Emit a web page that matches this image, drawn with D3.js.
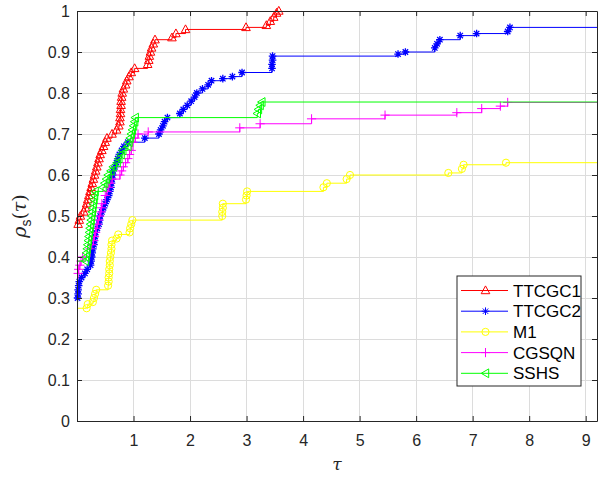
<!DOCTYPE html>
<html>
<head>
<meta charset="utf-8">
<script src="https://cdn.jsdelivr.net/npm/d3@7/dist/d3.min.js"></script>
<style>
  html, body { margin: 0; padding: 0; background: #fff; }
  svg { display: block; }
</style>
</head>
<body>
<div id="chart"></div>
<script>
// Performance profiles: fraction of problems rho_s(tau) solved within factor tau.
const seriesNames = ["TTCGC1", "TTCGC2", "M1", "CGSQN", "SSHS"];

const ttcgc1Tau = [0.02, 0.04, 0.06, 0.12, 0.15, 0.17, 0.19, 0.21, 0.23, 0.25, 0.27, 0.29, 0.31, 0.33, 0.35, 0.37, 0.39, 0.41, 0.44, 0.47, 0.50, 0.53, 0.62, 0.70, 0.74, 0.76, 0.76, 0.77, 0.77, 0.78, 0.78, 0.79, 0.80, 0.82, 0.86, 0.88, 0.92, 0.96, 1.02, 1.25, 1.27, 1.28, 1.30, 1.32, 1.35, 1.38, 1.68, 1.75, 1.92, 2.99, 3.35, 3.42, 3.48, 3.53, 3.57];
const ttcgc1Rho = [0.48, 0.49, 0.50, 0.51, 0.52, 0.53, 0.54, 0.55, 0.56, 0.57, 0.58, 0.59, 0.60, 0.61, 0.62, 0.63, 0.64, 0.65, 0.66, 0.67, 0.68, 0.69, 0.70, 0.71, 0.72, 0.73, 0.74, 0.75, 0.76, 0.77, 0.78, 0.79, 0.80, 0.81, 0.82, 0.83, 0.84, 0.85, 0.86, 0.87, 0.88, 0.89, 0.90, 0.91, 0.92, 0.93, 0.935, 0.945, 0.955, 0.96, 0.965, 0.975, 0.985, 0.995, 1.0];

const ttcgc2Tau = [0.01, 0.02, 0.02, 0.03, 0.04, 0.08, 0.14, 0.18, 0.24, 0.25, 0.26, 0.27, 0.28, 0.30, 0.31, 0.32, 0.33, 0.36, 0.39, 0.40, 0.41, 0.44, 0.47, 0.50, 0.53, 0.56, 0.58, 0.60, 0.61, 0.62, 0.63, 0.64, 0.67, 0.70, 0.72, 0.75, 0.79, 0.83, 0.90, 1.20, 1.45, 1.48, 1.52, 1.55, 1.60, 1.82, 1.88, 1.95, 2.02, 2.08, 2.12, 2.22, 2.32, 2.38, 2.58, 2.75, 2.92, 3.45, 3.45, 3.46, 3.46, 5.68, 5.81, 6.33, 6.37, 6.42, 6.78, 7.07, 7.62, 7.66];
const ttcgc2Rho = [0.30, 0.31, 0.32, 0.33, 0.34, 0.35, 0.36, 0.37, 0.38, 0.39, 0.40, 0.41, 0.42, 0.43, 0.44, 0.45, 0.46, 0.47, 0.48, 0.49, 0.50, 0.51, 0.52, 0.53, 0.54, 0.55, 0.56, 0.57, 0.58, 0.59, 0.60, 0.61, 0.62, 0.63, 0.64, 0.65, 0.66, 0.67, 0.68, 0.69, 0.70, 0.71, 0.72, 0.73, 0.74, 0.75, 0.76, 0.77, 0.78, 0.79, 0.80, 0.81, 0.82, 0.83, 0.835, 0.84, 0.85, 0.86, 0.87, 0.88, 0.89, 0.895, 0.90, 0.91, 0.92, 0.93, 0.94, 0.945, 0.95, 0.96];

const m1Tau = [0.17, 0.19, 0.28, 0.30, 0.32, 0.34, 0.55, 0.56, 0.56, 0.57, 0.57, 0.58, 0.58, 0.59, 0.60, 0.61, 0.61, 0.62, 0.70, 0.73, 0.93, 0.94, 0.96, 0.98, 2.57, 2.57, 2.58, 2.58, 2.99, 3.00, 3.01, 4.36, 4.42, 4.77, 4.83, 6.57, 6.81, 6.84, 7.59];
const m1Rho = [0.275, 0.285, 0.29, 0.30, 0.31, 0.32, 0.33, 0.34, 0.35, 0.36, 0.37, 0.38, 0.39, 0.40, 0.41, 0.42, 0.43, 0.44, 0.445, 0.455, 0.46, 0.47, 0.48, 0.49, 0.50, 0.51, 0.52, 0.53, 0.54, 0.55, 0.56, 0.57, 0.58, 0.59, 0.60, 0.605, 0.615, 0.625, 0.63];

const cgsqnTau = [0.02, 0.03, 0.05, 0.07, 0.10, 0.23, 0.26, 0.29, 0.31, 0.33, 0.34, 0.36, 0.38, 0.40, 0.42, 0.43, 0.44, 0.50, 0.53, 0.56, 0.58, 0.62, 0.76, 0.79, 0.82, 0.86, 0.90, 0.93, 0.96, 0.99, 1.03, 1.08, 1.26, 2.88, 3.24, 4.15, 5.45, 6.72, 7.16, 7.49, 7.62];
const cgsqnRho = [0.36, 0.37, 0.38, 0.39, 0.40, 0.42, 0.43, 0.44, 0.45, 0.46, 0.47, 0.48, 0.49, 0.50, 0.51, 0.52, 0.53, 0.55, 0.56, 0.57, 0.58, 0.59, 0.60, 0.61, 0.62, 0.63, 0.64, 0.65, 0.66, 0.68, 0.69, 0.70, 0.705, 0.715, 0.725, 0.737, 0.746, 0.752, 0.762, 0.768, 0.777];

const sshsTau = [0.15, 0.16, 0.17, 0.18, 0.19, 0.20, 0.21, 0.22, 0.23, 0.24, 0.25, 0.26, 0.27, 0.28, 0.29, 0.30, 0.31, 0.32, 0.46, 0.49, 0.52, 0.55, 0.60, 0.64, 0.71, 0.74, 0.78, 0.81, 0.90, 0.92, 0.94, 0.96, 0.98, 1.00, 1.02, 1.03, 3.19, 3.21, 3.24, 3.27];
const sshsRho = [0.39, 0.40, 0.41, 0.42, 0.43, 0.44, 0.45, 0.46, 0.47, 0.48, 0.49, 0.50, 0.51, 0.52, 0.53, 0.54, 0.55, 0.56, 0.57, 0.58, 0.59, 0.60, 0.61, 0.62, 0.63, 0.64, 0.65, 0.66, 0.67, 0.68, 0.69, 0.70, 0.71, 0.72, 0.73, 0.74, 0.75, 0.76, 0.77, 0.778];

const xTicks = [1, 2, 3, 4, 5, 6, 7, 8, 9];
const yTicks = [0, 0.1, 0.2, 0.3, 0.4, 0.5, 0.6, 0.7, 0.8, 0.9, 1];
const yTickLabels = ["0", "0.1", "0.2", "0.3", "0.4", "0.5", "0.6", "0.7", "0.8", "0.9", "1"];
const xDomain = [0, 9.2];
const yDomain = [0, 1];

const colors = ["#ff0000", "#0000ff", "#ffff00", "#ff00ff", "#00ff00"];
const markerShapes = ["triangleUp", "asterisk", "circle", "plus", "triangleLeft"];

const series = [
  { name: seriesNames[0], tau: ttcgc1Tau, rho: ttcgc1Rho },
  { name: seriesNames[1], tau: ttcgc2Tau, rho: ttcgc2Rho },
  { name: seriesNames[2], tau: m1Tau, rho: m1Rho },
  { name: seriesNames[3], tau: cgsqnTau, rho: cgsqnRho },
  { name: seriesNames[4], tau: sshsTau, rho: sshsRho }
].map((s, i) => ({ ...s, color: colors[i], shape: markerShapes[i],
  points: s.tau.map((t, j) => [t, s.rho[j]]) }));

const W = 605, H = 477;
const plot = { left: 77, right: 597, top: 11, bottom: 421 };
const axisColor = "#262626";
const gridColor = "#dcdcdc";
const font = "'Liberation Sans', Arial, Helvetica, sans-serif";

const x = d3.scaleLinear().domain(xDomain).range([plot.left, plot.right]);
const y = d3.scaleLinear().domain(yDomain).range([plot.bottom, plot.top]);

const svg = d3.select("#chart").append("svg")
  .attr("width", W).attr("height", H)
  .attr("viewBox", `0 0 ${W} ${H}`);

svg.append("rect").attr("width", W).attr("height", H).attr("fill", "#fff");

svg.append("defs").append("clipPath").attr("id", "plot-clip")
  .append("rect")
  .attr("x", plot.left).attr("y", plot.top)
  .attr("width", plot.right - plot.left).attr("height", plot.bottom - plot.top);

// grid
const grid = svg.append("g").attr("stroke", gridColor).attr("stroke-width", 1).attr("shape-rendering", "crispEdges");
grid.selectAll("line.gx").data(xTicks).join("line")
  .attr("x1", d => x(d)).attr("x2", d => x(d))
  .attr("y1", plot.top).attr("y2", plot.bottom);
grid.selectAll("line.gy").data(yTicks.filter(d => d > 0 && d < 1)).join("line")
  .attr("x1", plot.left).attr("x2", plot.right)
  .attr("y1", d => y(d)).attr("y2", d => y(d));

// marker glyphs
function markerPath(shape) {
  switch (shape) {
    case "triangleUp": return "M0,-4.6L4.3,3.2L-4.3,3.2Z";
    case "asterisk": return "M-3.8,0H3.8M0,-3.8V3.8M-2.7,-2.7L2.7,2.7M-2.7,2.7L2.7,-2.7";
    case "circle": return "M3.6,0A3.6,3.6 0 1,1 -3.6,0A3.6,3.6 0 1,1 3.6,0Z";
    case "plus": return "M-4.6,0H4.6M0,-4.6V4.6";
    case "triangleLeft": return "M-4.3,0L3.2,-4.4L3.2,4.4Z";
  }
}

// staircase lines, extended across the axes window
const line = d3.line().x(d => x(d[0])).y(d => y(d[1])).curve(d3.curveStepAfter);

const seriesG = svg.append("g");
series.forEach(s => {
  const first = s.points[0], last = s.points[s.points.length - 1];
  const path = [[xDomain[0], first[1]], ...s.points, [xDomain[1], last[1]]];
  const g = seriesG.append("g");
  g.append("path")
    .attr("d", line(path))
    .attr("fill", "none")
    .attr("stroke", s.color)
    .attr("stroke-width", 1)
    .attr("clip-path", "url(#plot-clip)");
  g.selectAll("path.mk").data(s.points).join("path")
    .attr("class", "mk")
    .attr("transform", d => `translate(${x(d[0])},${y(d[1])})`)
    .attr("d", markerPath(s.shape))
    .attr("fill", "none")
    .attr("stroke", s.color)
    .attr("stroke-width", s.shape === "asterisk" ? 1.3 : 1);
});

// axes box with inward ticks
const axG = svg.append("g");
const bottomAxis = d3.axisBottom(x).tickValues(xTicks).tickSizeInner(-5).tickSizeOuter(0).tickPadding(14).tickFormat(d3.format("d"));
const leftAxis = d3.axisLeft(y).tickValues(yTicks).tickSizeInner(-5).tickSizeOuter(0).tickPadding(7)
  .tickFormat((d, i) => yTickLabels[i]);
const topAxis = d3.axisTop(x).tickValues(xTicks).tickSizeInner(-5).tickSizeOuter(0).tickFormat("");
const rightAxis = d3.axisRight(y).tickValues(yTicks).tickSizeInner(-5).tickSizeOuter(0).tickFormat("");

function styleAxis(g) {
  g.select(".domain").attr("stroke", axisColor).attr("stroke-width", 1);
  g.selectAll(".tick line").attr("stroke", axisColor);
  g.selectAll(".tick text").attr("fill", axisColor).style("font-family", font).style("font-size", "16px");
}
axG.append("g").attr("transform", `translate(0,${plot.bottom})`).call(bottomAxis).call(styleAxis);
axG.append("g").attr("transform", `translate(${plot.left},0)`).call(leftAxis).call(styleAxis);
axG.append("g").attr("transform", `translate(0,${plot.top})`).call(topAxis).call(styleAxis);
axG.append("g").attr("transform", `translate(${plot.right},0)`).call(rightAxis).call(styleAxis);
axG.selectAll("text").attr("font-family", null);

// axis titles
svg.append("text")
  .attr("x", (plot.left + plot.right) / 2).attr("y", 470)
  .attr("text-anchor", "middle")
  .style("font-family", "'DejaVu Serif', 'Liberation Serif', serif")
  .style("font-style", "italic").style("font-size", "17px")
  .attr("fill", axisColor)
  .text("τ");

const yl = svg.append("text")
  .attr("transform", `translate(26,${(plot.top + plot.bottom) / 2}) rotate(-90)`)
  .attr("text-anchor", "middle")
  .style("font-family", "'DejaVu Serif', 'Liberation Serif', serif")
  .style("font-size", "19px")
  .attr("fill", axisColor);
yl.append("tspan").style("font-style", "italic").text("ρ");
yl.append("tspan").attr("dy", 5).style("font-size", "14px").style("font-family", font).text("s");
yl.append("tspan").attr("dy", -5).text("(");
yl.append("tspan").style("font-style", "italic").text("τ");
yl.append("tspan").text(")");

// legend
const leg = { x: 457, y: 276, w: 124, h: 110, row0: 290.5, rowStep: 20.7 };
const lg = svg.append("g");
lg.append("rect")
  .attr("x", leg.x).attr("y", leg.y).attr("width", leg.w).attr("height", leg.h)
  .attr("fill", "#fff").attr("stroke", axisColor).attr("stroke-width", 1);
series.forEach((s, i) => {
  const cy = leg.row0 + i * leg.rowStep;
  lg.append("line").attr("x1", leg.x + 4).attr("x2", leg.x + 51)
    .attr("y1", cy).attr("y2", cy).attr("stroke", s.color).attr("stroke-width", 1);
  lg.append("path").attr("transform", `translate(${leg.x + 28.5},${cy})`)
    .attr("d", markerPath(s.shape)).attr("fill", "none").attr("stroke", s.color).attr("stroke-width", 1);
  lg.append("text").attr("x", leg.x + 56).attr("y", cy).attr("dy", "0.36em")
    .style("font-family", font).style("font-size", "17px").attr("fill", "#000")
    .text(s.name);
});
</script>
</body>
</html>
